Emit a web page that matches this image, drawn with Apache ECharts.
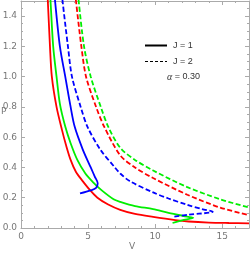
<!DOCTYPE html>
<html><head><meta charset="utf-8">
<script src="https://cdn.jsdelivr.net/npm/echarts@6/dist/echarts.min.js"></script>
<style>html,body{margin:0;padding:0;background:#fff}#c{width:250px;height:254px}</style>
</head><body><div id="c"></div>
<script>
// Data: [V, P] pairs
const redJ1 = [[1.95,1.56],[2.0,1.5],[2.16,1.2],[2.3,1.0],[2.65,0.8],[3.05,0.65],[3.35,0.55],[3.7,0.45],[4.1,0.37],[4.6,0.31],[5.15,0.25],[5.7,0.2],[6.5,0.155],[7.4,0.12],[8.5,0.093],[9.85,0.073],[11.5,0.052],[12.5,0.043],[14,0.036],[15.5,0.033],[17,0.031]];
const greenJ1 = [[2.15,1.56],[2.2,1.5],[2.4,1.2],[2.65,1.0],[2.9,0.82],[3.3,0.67],[3.7,0.56],[4.2,0.45],[4.8,0.36],[5.4,0.3],[6.0,0.25],[6.9,0.19],[7.4,0.173],[8.5,0.145],[9.85,0.125],[11,0.1],[12.4,0.075],[12.85,0.067],[12.0,0.05],[11.3,0.033]];
const blueJ1 = [[2.5,1.56],[2.54,1.5],[2.9,1.2],[3.3,1.0],[3.7,0.8],[4.0,0.67],[4.6,0.52],[5.2,0.4],[5.5,0.34],[5.72,0.295],[5.6,0.265],[5.2,0.248],[4.4,0.228]];
const blueJ2 = [[3.05,1.56],[3.1,1.5],[3.5,1.2],[3.8,1.0],[4.45,0.8],[4.95,0.67],[5.9,0.52],[7.0,0.4],[7.4,0.36],[8.1,0.31],[9.85,0.235],[11,0.195],[12.4,0.153],[13.5,0.125],[14.3,0.107],[12.5,0.088],[11.3,0.073]];
const redJ2 = [[4.05,1.56],[4.1,1.5],[4.5,1.2],[4.85,1.0],[5.6,0.8],[6.2,0.67],[7.4,0.48],[8.5,0.4],[9.85,0.33],[12.4,0.22],[14.85,0.135],[17,0.085]];
const greenJ2 = [[4.25,1.56],[4.3,1.5],[4.7,1.2],[5.2,1.0],[5.95,0.8],[6.5,0.67],[7.4,0.53],[8.5,0.45],[9.85,0.38],[12.4,0.27],[14.85,0.19],[17,0.135]];
const xTicks = [0,5,10,15];
const yTicks = [0.0,0.2,0.4,0.6,0.8,1.0,1.2,1.4];
const legendLabels = ['J = 1','J = 2'];
const alphaLabel = '0.30';

const chart = echarts.init(document.getElementById('c'));
const frame = '#aaaaaa', lab = '#777777';
function axisBase(){
  return {
    axisLine:{show:true,onZero:false,lineStyle:{color:frame,width:1}},
    axisTick:{show:true,inside:true,length:4,lineStyle:{color:frame}},
    minorTick:{show:true,length:2,lineStyle:{color:frame}},
    splitLine:{show:false}
  };
}
const fmtY = v => v.toFixed(1);
const mk = (data,color,dashed) => ({type:'line',data,showSymbol:false,smooth:0.3,clip:true,
  lineStyle:{color,width:1.8,type:dashed?[5,2.5]:'solid'},animation:false,xAxisIndex:0,yAxisIndex:0});
chart.setOption({
  animation:false,
  grid:{left:21,right:1,top:1,bottom:26,containLabel:false,outerBoundsMode:'none'},
  xAxis:[
    Object.assign(axisBase(),{type:'value',min:0,max:17,interval:5,position:'bottom',
      minorTick:{show:true,splitNumber:5,length:2,lineStyle:{color:frame}},
      axisLabel:{color:lab,fontSize:9,fontFamily:'DejaVu Sans',margin:4,showMaxLabel:false,
        formatter:v=>xTicks.includes(v)?String(v):''}}),
    Object.assign(axisBase(),{type:'value',min:0,max:17,interval:5,position:'top',
      minorTick:{show:true,splitNumber:5,length:2,lineStyle:{color:frame}},axisLabel:{show:false}})
  ],
  yAxis:[
    Object.assign(axisBase(),{type:'value',min:0,max:1.5,interval:0.2,position:'left',
      minorTick:{show:true,splitNumber:4,length:2,lineStyle:{color:frame}},
      axisLabel:{color:lab,fontSize:9,fontFamily:'DejaVu Sans',margin:4,showMaxLabel:false,
        formatter:v=>{const s=fmtY(v);return yTicks.map(fmtY).includes(s)?s:'';}}}),
    Object.assign(axisBase(),{type:'value',min:0,max:1.5,interval:0.2,position:'right',
      minorTick:{show:true,splitNumber:4,length:2,lineStyle:{color:frame}},axisLabel:{show:false}})
  ],
  graphic:[
    {type:'text',left:1,top:107,style:{text:'P',fill:lab,font:'9px DejaVu Sans'}},
    {type:'text',left:129,top:242,style:{text:'V',fill:lab,font:'9px DejaVu Sans'}},
    {type:'line',shape:{x1:145,y1:45.5,x2:167,y2:45.5},style:{stroke:'#000',lineWidth:2}},
    {type:'line',shape:{x1:145,y1:61.5,x2:167,y2:61.5},style:{stroke:'#000',lineWidth:1,lineDash:[3,2]}},
    {type:'text',left:173,top:41,style:{text:legendLabels[0],fill:'#333',font:'9px Liberation Sans'}},
    {type:'text',left:173,top:57,style:{text:legendLabels[1],fill:'#333',font:'9px Liberation Sans'}},
    {type:'text',left:167,top:72,style:{rich:{a:{fontStyle:'italic',fontFamily:'Liberation Serif',fontSize:10,fill:'#333'},b:{fontFamily:'Liberation Sans',fontSize:9,fill:'#333'}},text:'{a|α}{b| = '+alphaLabel+'}'}}
  ],
  series:[
    mk(redJ1,'#ff0000',false), mk(greenJ1,'#00ee00',false), mk(blueJ1,'#0000ff',false),
    mk(blueJ2,'#0000ff',true), mk(redJ2,'#ff0000',true), mk(greenJ2,'#00ee00',true)
  ]
});
</script></body></html>
